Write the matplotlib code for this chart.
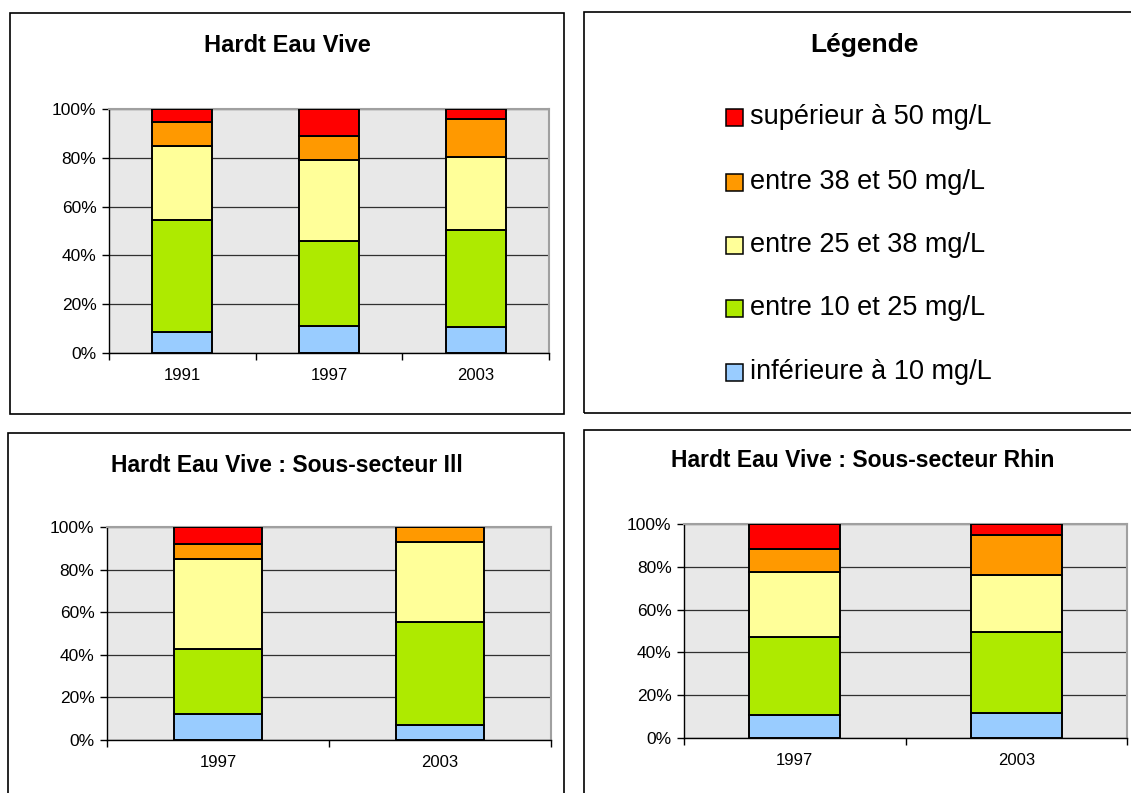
import numpy as np
import matplotlib
matplotlib.use("Agg")
import matplotlib.pyplot as plt
from matplotlib.patches import Rectangle

plt.rcParams['font.family'] = ['Liberation Sans', 'DejaVu Sans']

W, H = 1131, 793

# classes, bottom to top
classes = ["inférieure à 10 mg/L", "entre 10 et 25 mg/L", "entre 25 et 38 mg/L",
           "entre 38 et 50 mg/L", "supérieur à 50 mg/L"]
colors = ["#99CCFF", "#AEEA00", "#FFFF99", "#FF9900", "#FF0000"]

# Hardt Eau Vive (segment heights in %)
years_all = ["1991", "1997", "2003"]
all_blue = [8.6, 11.2, 10.8]
all_green = [46.0, 34.6, 39.7]
all_yellow = [30.4, 33.2, 29.9]
all_orange = [9.5, 10.1, 15.5]
all_red = [5.5, 10.9, 4.1]

# Sous-secteur Ill
years_ill = ["1997", "2003"]
ill_blue = [12.2, 6.9]
ill_green = [30.3, 48.7]
ill_yellow = [42.5, 37.2]
ill_orange = [7.0, 7.2]
ill_red = [8.0, 0.0]

# Sous-secteur Rhin
years_rhin = ["1997", "2003"]
rhin_blue = [10.7, 11.5]
rhin_green = [36.3, 37.8]
rhin_yellow = [30.8, 26.9]
rhin_orange = [10.7, 18.5]
rhin_red = [11.5, 5.3]


def px_axes(fig, left, top, right, bottom):
    # pixel box -> figure fraction axes
    return fig.add_axes([left / W, 1 - bottom / H, (right - left) / W, (bottom - top) / H])


def box(fig, left, top, right, bottom):
    fig.patches.append(Rectangle((left / W, 1 - bottom / H), (right - left) / W, (bottom - top) / H,
                                 transform=fig.transFigure, fill=False, edgecolor="black",
                                 linewidth=1.2, zorder=0))


def stacked(ax, years, series, width):
    x = np.arange(len(years))
    base = np.zeros(len(years))
    for vals, c in zip(series, colors):
        vals = np.array(vals)
        ax.bar(x, vals, width, bottom=base, color=c, edgecolor="black", linewidth=1.4, zorder=3)
        base += vals
    ax.set_facecolor("#E8E8E8")
    ax.set_xlim(-0.5, len(years) - 0.5)
    ax.set_ylim(0, 100)
    ax.set_yticks(range(0, 101, 20))
    ax.set_yticklabels([f"{v}%" for v in range(0, 101, 20)], fontsize=12.5)
    ax.set_xticks(x)
    ax.set_xticklabels(years, fontsize=12)
    ax.set_xticks(np.arange(len(years) + 1) - 0.5, minor=True)
    ax.tick_params(axis="x", which="major", length=0, pad=11)
    ax.tick_params(axis="x", which="minor", length=5, direction="out", width=1)
    ax.tick_params(axis="y", length=5, direction="out", width=1, pad=4)
    ax.yaxis.grid(True, color="#303030", linewidth=0.9, zorder=1)
    ax.set_axisbelow(True)
    for s in ["top", "right"]:
        ax.spines[s].set_color("#A0A0A0")
        ax.spines[s].set_linewidth(1.5)
    for s in ["left", "bottom"]:
        ax.spines[s].set_color("black")
        ax.spines[s].set_linewidth(1)


fig = plt.figure(figsize=(W / 100, H / 100), dpi=100)

# panel frames
box(fig, 10, 13, 564, 414)
box(fig, 584, 12, 1140, 413)
box(fig, 8, 433, 564, 800)
box(fig, 584, 430, 1140, 800)

ax1 = px_axes(fig, 109, 109, 549, 353)
stacked(ax1, years_all, [all_blue, all_green, all_yellow, all_orange, all_red], 0.41)
fig.text(287 / W, 1 - 45 / H, "Hardt Eau Vive", ha="center", va="center",
         fontsize=17, fontweight="bold")

ax3 = px_axes(fig, 107, 527, 551, 740)
stacked(ax3, years_ill, [ill_blue, ill_green, ill_yellow, ill_orange, ill_red], 0.40)
fig.text(287 / W, 1 - 465 / H, "Hardt Eau Vive : Sous-secteur Ill", ha="center", va="center",
         fontsize=16.5, fontweight="bold")

ax4 = px_axes(fig, 684, 524, 1127, 738)
stacked(ax4, years_rhin, [rhin_blue, rhin_green, rhin_yellow, rhin_orange, rhin_red], 0.41)
fig.text(863 / W, 1 - 461 / H, "Hardt Eau Vive : Sous-secteur Rhin", ha="center", va="center",
         fontsize=16.5, fontweight="bold")

# legend panel
fig.text(864 / W, 1 - 45 / H, "Légende", ha="center", va="center",
         fontsize=19, fontweight="bold")
leg_y = [372, 308, 245, 182, 117]
for lab, c, y in zip(classes, colors, leg_y):
    fig.patches.append(Rectangle((726 / W, 1 - (y + 9) / H), 17 / W, 17 / H,
                                 transform=fig.transFigure, facecolor=c,
                                 edgecolor="black", linewidth=1.1))
    fig.text(750 / W, 1 - y / H, lab, ha="left", va="center", fontsize=19.5)

fig.savefig("out.png", dpi=100)
